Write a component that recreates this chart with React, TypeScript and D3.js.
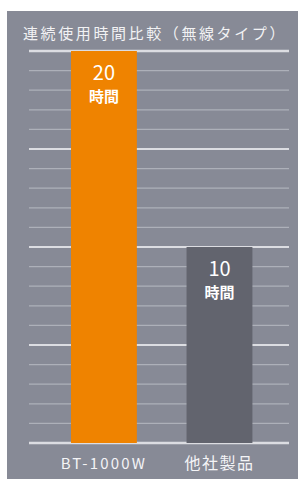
import { useEffect, useRef } from 'react'
import * as d3 from 'd3'

const categories = ['BT-1000W', '他社製品']
const hours = [20, 10]
const valueLabels = ['20', '10']
const unitLabel = '時間'
const title = '連続使用時間比較（無線タイプ）'
const gridTicks = d3.range(0, 21)
const barColors = ['#ef8300', '#62646e']

const App = () => {
  const chart = useRef<SVGSVGElement>(null)

  useEffect(() => {
    const w = 302
    const h = 479
    const svg = d3.select(chart.current)
    svg.selectAll('*').remove()
    svg.attr('width', w).attr('height', h)

    // panel background
    svg.append('rect')
      .attr('x', 7).attr('y', 11)
      .attr('width', 291).attr('height', 468)
      .attr('fill', '#878a96')

    const font = '"Noto Sans CJK JP", "Noto Sans", sans-serif'

    svg.append('text')
      .attr('x', 155).attr('y', 39)
      .attr('text-anchor', 'middle')
      .attr('fill', '#f2f2f4')
      .style('font-family', font)
      .style('font-size', '15px')
      .style('letter-spacing', '2.6px')
      .text(title)

    const y = d3.scaleLinear().domain([0, 20]).range([443, 51])
    const x = d3.scaleBand().domain(categories).range([31.7, 291.7]).paddingInner(0.43).paddingOuter(0.34)

    // grid
    svg.append('g')
      .selectAll('line')
      .data(gridTicks)
      .join('line')
      .attr('x1', 29).attr('x2', 289)
      .attr('y1', d => y(d)).attr('y2', d => y(d))
      .attr('stroke', d => (d % 5 === 0 ? '#dcdde2' : '#adb0b9'))
      .attr('stroke-width', d => (d === 0 || d === 20 ? 2.5 : d % 5 === 0 ? 2 : 1.3))

    const bars = svg.append('g')
    bars.selectAll('rect')
      .data(hours)
      .join('rect')
      .attr('x', (_, i) => x(categories[i])!)
      .attr('width', x.bandwidth())
      .attr('y', d => y(d))
      .attr('height', d => y(0) - y(d))
      .attr('fill', (_, i) => barColors[i])

    // value labels
    hours.forEach((v, i) => {
      const cx = x(categories[i])! + x.bandwidth() / 2
      svg.append('text')
        .attr('x', cx).attr('y', y(v) + 29)
        .attr('text-anchor', 'middle')
        .attr('fill', '#ffffff')
        .style('font-family', font)
        .style('font-size', '20px')
        .text(valueLabels[i])
      svg.append('text')
        .attr('x', cx).attr('y', y(v) + 51)
        .attr('text-anchor', 'middle')
        .attr('fill', '#ffffff')
        .style('font-family', font)
        .style('font-size', '15px')
        .style('font-weight', 'bold')
        .text(unitLabel)
    })

    // category labels
    svg.append('g')
      .selectAll('text')
      .data(categories)
      .join('text')
      .attr('x', d => x(d)! + x.bandwidth() / 2)
      .attr('y', 469)
      .attr('text-anchor', 'middle')
      .attr('fill', '#f4f4f6')
      .style('font-family', font)
      .style('font-size', (_, i) => (i === 0 ? '15px' : '16px'))
      .style('letter-spacing', (_, i) => (i === 0 ? '2.2px' : '1.5px'))
      .text(d => d)
  }, [])

  return (
    <svg ref={chart} style={{ position: 'absolute', left: 0, top: 0 }}></svg>
  )
}

export default App
